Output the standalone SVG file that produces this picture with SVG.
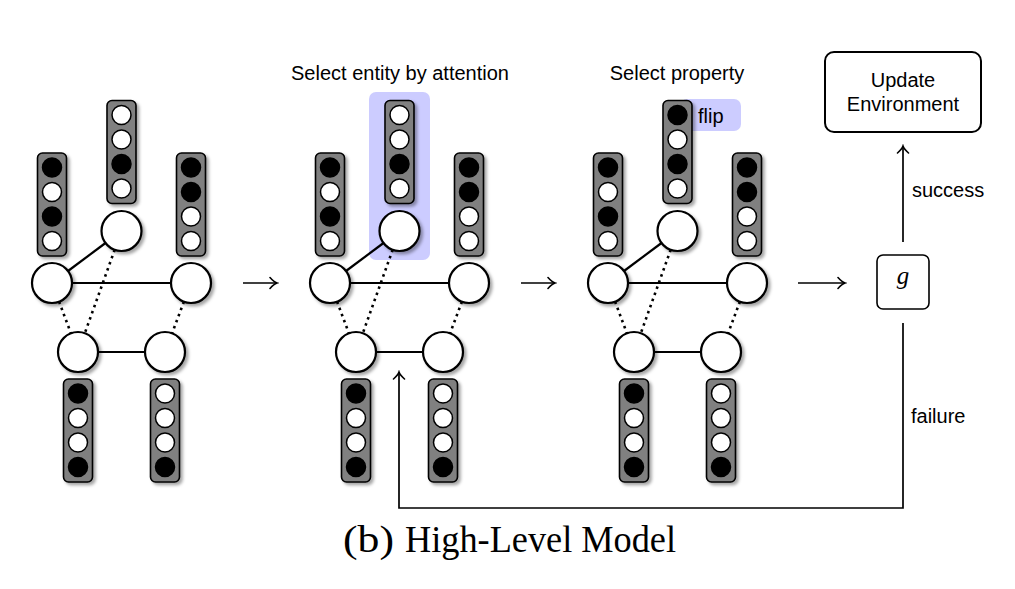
<svg xmlns="http://www.w3.org/2000/svg" width="1015" height="589" viewBox="0 0 1015 589">
<style>
.vec{fill:#808080;stroke:#000;stroke-width:1.6;filter:url(#sh)}
.b{fill:#000;stroke:#000;stroke-width:1.5}
.w{fill:#fff;stroke:#000;stroke-width:1.5}
.node{fill:#fff;stroke:#000;stroke-width:2.2;filter:url(#sh)}
.edge{stroke:#000;stroke-width:2.2;fill:none}
.dot{stroke:#000;stroke-width:2.6;stroke-dasharray:2.5 4;fill:none}
.arr{stroke:#000;stroke-width:1.7;fill:none;marker-end:url(#ah)}
.lbl{font-family:"Liberation Sans",Arial,sans-serif;font-size:20px;fill:#000}
.hl{fill:#ccccff}
.box{fill:#fff;stroke:#000;stroke-width:2}
</style>
<defs>
<filter id="sh" x="-30%" y="-30%" width="170%" height="170%">
<feDropShadow dx="2.5" dy="2.5" stdDeviation="1.5" flood-color="#000" flood-opacity="0.35"/>
</filter>
<marker id="ah" viewBox="-10 -8 12 16" markerWidth="12" markerHeight="16" refX="0" refY="0" orient="auto" markerUnits="userSpaceOnUse">
<path d="M-7,-5.5 Q-3,-1 0,0 Q-3,1 -7,5.5" fill="none" stroke="#000" stroke-width="1.6" stroke-linecap="round"/>
</marker>
</defs>
<rect width="1015" height="589" fill="#fff"/>

<!-- highlights -->
<rect class="hl" x="369" y="92" width="61" height="168" rx="7"/>
<rect class="hl" x="680" y="99" width="61" height="32" rx="7"/>

<!-- labels -->
<text class="lbl" x="400" y="80" text-anchor="middle">Select entity by attention</text>
<text class="lbl" x="677" y="80" text-anchor="middle">Select property</text>
<text class="lbl" x="698" y="123">flip</text>

<g id="connectors">
<g id="p1-edges">
<line class="edge" x1="105.5" y1="243" x2="68" y2="271"/>
<line class="edge" x1="72" y1="283" x2="171" y2="283"/>
<line class="edge" x1="98" y1="352" x2="145" y2="352"/>
<line class="dot" x1="59.1" y1="301.7" x2="70.9" y2="333.3"/>
<line class="dot" x1="114.7" y1="249.8" x2="84.8" y2="333.2"/>
<line class="dot" x1="183.9" y1="301.7" x2="172.1" y2="333.3"/>
</g>
<g id="p2-edges" transform="translate(278,0)">
<line class="edge" x1="105.5" y1="243" x2="68" y2="271"/>
<line class="edge" x1="72" y1="283" x2="171" y2="283"/>
<line class="edge" x1="98" y1="352" x2="145" y2="352"/>
<line class="dot" x1="59.1" y1="301.7" x2="70.9" y2="333.3"/>
<line class="dot" x1="114.7" y1="249.8" x2="84.8" y2="333.2"/>
<line class="dot" x1="183.9" y1="301.7" x2="172.1" y2="333.3"/>
</g>
<g id="p3-edges" transform="translate(556,0)">
<line class="edge" x1="105.5" y1="243" x2="68" y2="271"/>
<line class="edge" x1="72" y1="283" x2="171" y2="283"/>
<line class="edge" x1="98" y1="352" x2="145" y2="352"/>
<line class="dot" x1="59.1" y1="301.7" x2="70.9" y2="333.3"/>
<line class="dot" x1="114.7" y1="249.8" x2="84.8" y2="333.2"/>
<line class="dot" x1="183.9" y1="301.7" x2="172.1" y2="333.3"/>
</g>
<path class="arr" d="M243,283 H277"/>
<path class="arr" d="M521,283 H555"/>
<path class="arr" d="M798,283 H845"/>
<path class="arr" d="M903,242 V146"/>
<path class="arr" d="M903,323 V508 H399 V372"/>
<text class="lbl" x="912" y="197">success</text>
<text class="lbl" x="911" y="423">failure</text>
</g>

<!-- panel 1 -->
<g id="panel1">
<g id="p1-top">
<rect class="vec" x="107" y="100.5" width="29" height="103" rx="5"/>
<circle class="w" cx="121.5" cy="115" r="9.5"/><circle class="w" cx="121.5" cy="139.5" r="9.5"/><circle class="b" cx="121.5" cy="164" r="9.5"/><circle class="w" cx="121.5" cy="188.5" r="9.5"/>
<circle class="node" cx="121.5" cy="231" r="20"/>
</g>
<g id="p1-left">
<rect class="vec" x="37.5" y="153" width="29" height="103" rx="5"/>
<circle class="b" cx="52" cy="167.5" r="9.5"/><circle class="w" cx="52" cy="192" r="9.5"/><circle class="b" cx="52" cy="216.5" r="9.5"/><circle class="w" cx="52" cy="241" r="9.5"/>
<circle class="node" cx="52" cy="283" r="20"/>
</g>
<g id="p1-right">
<rect class="vec" x="176.5" y="153" width="29" height="103" rx="5"/>
<circle class="b" cx="191" cy="167.5" r="9.5"/><circle class="b" cx="191" cy="192" r="9.5"/><circle class="w" cx="191" cy="216.5" r="9.5"/><circle class="w" cx="191" cy="241" r="9.5"/>
<circle class="node" cx="191" cy="283" r="20"/>
</g>
<g id="p1-botleft">
<circle class="node" cx="78" cy="352" r="20"/>
<rect class="vec" x="63.5" y="379" width="29" height="103" rx="5"/>
<circle class="b" cx="78" cy="393.5" r="9.5"/><circle class="w" cx="78" cy="418" r="9.5"/><circle class="w" cx="78" cy="442.5" r="9.5"/><circle class="b" cx="78" cy="467" r="9.5"/>
</g>
<g id="p1-botright">
<circle class="node" cx="165" cy="352" r="20"/>
<rect class="vec" x="150.5" y="379" width="29" height="103" rx="5"/>
<circle class="w" cx="165" cy="393.5" r="9.5"/><circle class="w" cx="165" cy="418" r="9.5"/><circle class="w" cx="165" cy="442.5" r="9.5"/><circle class="b" cx="165" cy="467" r="9.5"/>
</g>
</g>

<!-- panel 2 -->
<g id="panel2" transform="translate(278,0)">
<g id="p2-top">
<rect class="vec" x="107" y="100.5" width="29" height="103" rx="5"/>
<circle class="w" cx="121.5" cy="115" r="9.5"/><circle class="w" cx="121.5" cy="139.5" r="9.5"/><circle class="b" cx="121.5" cy="164" r="9.5"/><circle class="w" cx="121.5" cy="188.5" r="9.5"/>
<circle class="node" cx="121.5" cy="231" r="20"/>
</g>
<g id="p2-left">
<rect class="vec" x="37.5" y="153" width="29" height="103" rx="5"/>
<circle class="b" cx="52" cy="167.5" r="9.5"/><circle class="w" cx="52" cy="192" r="9.5"/><circle class="b" cx="52" cy="216.5" r="9.5"/><circle class="w" cx="52" cy="241" r="9.5"/>
<circle class="node" cx="52" cy="283" r="20"/>
</g>
<g id="p2-right">
<rect class="vec" x="176.5" y="153" width="29" height="103" rx="5"/>
<circle class="b" cx="191" cy="167.5" r="9.5"/><circle class="b" cx="191" cy="192" r="9.5"/><circle class="w" cx="191" cy="216.5" r="9.5"/><circle class="w" cx="191" cy="241" r="9.5"/>
<circle class="node" cx="191" cy="283" r="20"/>
</g>
<g id="p2-botleft">
<circle class="node" cx="78" cy="352" r="20"/>
<rect class="vec" x="63.5" y="379" width="29" height="103" rx="5"/>
<circle class="b" cx="78" cy="393.5" r="9.5"/><circle class="w" cx="78" cy="418" r="9.5"/><circle class="w" cx="78" cy="442.5" r="9.5"/><circle class="b" cx="78" cy="467" r="9.5"/>
</g>
<g id="p2-botright">
<circle class="node" cx="165" cy="352" r="20"/>
<rect class="vec" x="150.5" y="379" width="29" height="103" rx="5"/>
<circle class="w" cx="165" cy="393.5" r="9.5"/><circle class="w" cx="165" cy="418" r="9.5"/><circle class="w" cx="165" cy="442.5" r="9.5"/><circle class="b" cx="165" cy="467" r="9.5"/>
</g>
</g>

<!-- panel 3 -->
<g id="panel3" transform="translate(556,0)">
<g id="p3-top">
<rect class="vec" x="107" y="100.5" width="29" height="103" rx="5"/>
<circle class="b" cx="121.5" cy="115" r="9.5"/><circle class="w" cx="121.5" cy="139.5" r="9.5"/><circle class="b" cx="121.5" cy="164" r="9.5"/><circle class="w" cx="121.5" cy="188.5" r="9.5"/>
<circle class="node" cx="121.5" cy="231" r="20"/>
</g>
<g id="p3-left">
<rect class="vec" x="37.5" y="153" width="29" height="103" rx="5"/>
<circle class="b" cx="52" cy="167.5" r="9.5"/><circle class="w" cx="52" cy="192" r="9.5"/><circle class="b" cx="52" cy="216.5" r="9.5"/><circle class="w" cx="52" cy="241" r="9.5"/>
<circle class="node" cx="52" cy="283" r="20"/>
</g>
<g id="p3-right">
<rect class="vec" x="176.5" y="153" width="29" height="103" rx="5"/>
<circle class="b" cx="191" cy="167.5" r="9.5"/><circle class="b" cx="191" cy="192" r="9.5"/><circle class="w" cx="191" cy="216.5" r="9.5"/><circle class="w" cx="191" cy="241" r="9.5"/>
<circle class="node" cx="191" cy="283" r="20"/>
</g>
<g id="p3-botleft">
<circle class="node" cx="78" cy="352" r="20"/>
<rect class="vec" x="63.5" y="379" width="29" height="103" rx="5"/>
<circle class="b" cx="78" cy="393.5" r="9.5"/><circle class="w" cx="78" cy="418" r="9.5"/><circle class="w" cx="78" cy="442.5" r="9.5"/><circle class="b" cx="78" cy="467" r="9.5"/>
</g>
<g id="p3-botright">
<circle class="node" cx="165" cy="352" r="20"/>
<rect class="vec" x="150.5" y="379" width="29" height="103" rx="5"/>
<circle class="w" cx="165" cy="393.5" r="9.5"/><circle class="w" cx="165" cy="418" r="9.5"/><circle class="w" cx="165" cy="442.5" r="9.5"/><circle class="b" cx="165" cy="467" r="9.5"/>
</g>
</g>

<!-- g node -->
<g id="g-node">
<rect class="box" x="877" y="255" width="52" height="54" rx="6" style="stroke-width:1.6"/>
<text x="903" y="284" text-anchor="middle" style="font-family:'Liberation Serif','Times New Roman',serif;font-style:italic;font-size:25px">g</text>
</g>

<!-- update environment -->
<g id="update-env">
<rect class="box" x="825" y="52" width="156" height="80" rx="9"/>
<text class="lbl" x="903" y="87" text-anchor="middle">Update</text>
<text class="lbl" x="903" y="111" text-anchor="middle">Environment</text>
</g>

<!-- caption -->
<g id="caption" style="font-family:'Liberation Serif','Times New Roman',serif;font-size:37px;fill:#000">
<text x="343" y="552" textLength="51" lengthAdjust="spacingAndGlyphs">(b)</text>
<text x="405" y="552" textLength="271" lengthAdjust="spacingAndGlyphs">High-Level Model</text>
</g>
</svg>
